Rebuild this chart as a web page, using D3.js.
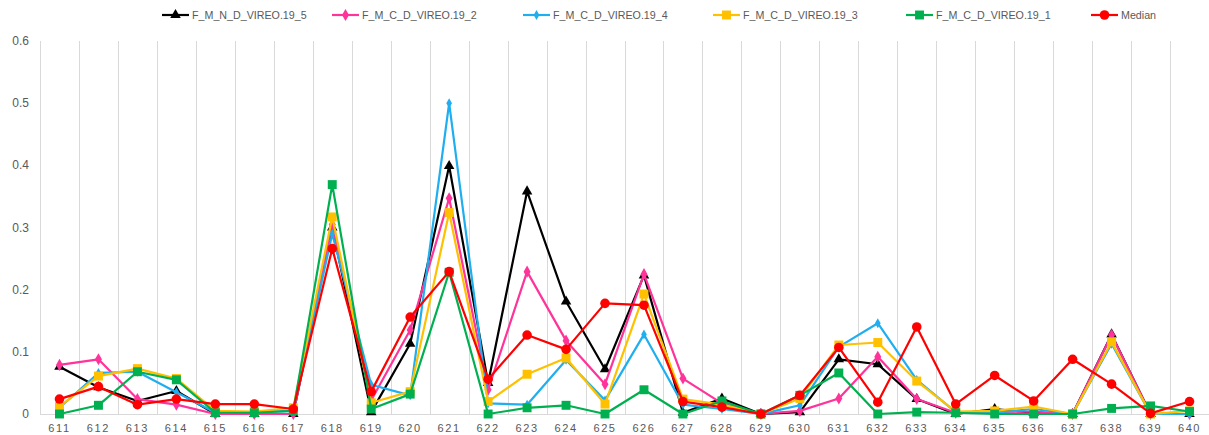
<!DOCTYPE html>
<html>
  <head>
    <script src="https://d3js.org/d3.v7.min.js"></script>
    <style>
      body { margin: 0; background: #fff; }
      text { font-family: "Liberation Sans", "Open Sans", sans-serif; fill: #595959; }
      .xlab { font-size: 11px; letter-spacing: 1.6px; }
      .ylab { font-size: 12px; }
      .legend text { font-size: 10.7px; }
    </style>
  </head>
  <body>
    <svg width="1209" height="435"></svg>
    <script>
      const categories = d3.range(611, 641).map(String);

      const seriesNames = [
        "F_M_N_D_VIREO.19_5",
        "F_M_C_D_VIREO.19_2",
        "F_M_C_D_VIREO.19_4",
        "F_M_C_D_VIREO.19_3",
        "F_M_C_D_VIREO.19_1",
        "Median"
      ];

      const s5 = [0.076, 0.043, 0.021, 0.037, 0, 0, 0, 0.300, 0.003, 0.113, 0.399, 0.050, 0.358, 0.181, 0.072,
                  0.223, 0.002, 0.025, 0, 0.003, 0.088, 0.080, 0.024, 0, 0.008, 0.002, 0, 0.128, 0, 0];
      const s2 = [0.079, 0.088, 0.024, 0.015, 0, 0, 0, 0.305, 0.022, 0.135, 0.347, 0.039, 0.229, 0.118, 0.048,
                  0.225, 0.057, 0.017, 0, 0.005, 0.025, 0.092, 0.024, 0.002, 0.003, 0.004, 0, 0.127, 0, 0];
      const s4 = [0.010, 0.066, 0.068, 0.035, 0.002, 0.003, 0.005, 0.290, 0.047, 0.030, 0.500, 0.017, 0.015, 0.087, 0.022,
                  0.128, 0.015, 0.008, 0, 0.014, 0.108, 0.146, 0.055, 0.003, 0.002, 0.008, 0, 0.113, 0, 0];
      const s3 = [0.012, 0.061, 0.073, 0.057, 0.005, 0.004, 0.010, 0.317, 0.018, 0.036, 0.324, 0.020, 0.064, 0.090, 0.016,
                  0.193, 0.024, 0.015, 0, 0.025, 0.111, 0.115, 0.053, 0.004, 0.005, 0.012, 0, 0.116, 0, 0.005];
      const s1 = [0, 0.014, 0.068, 0.055, 0.002, 0.002, 0.005, 0.369, 0.008, 0.032, 0.228, 0, 0.010, 0.014, 0,
                  0.039, 0, 0.021, 0, 0.030, 0.066, 0, 0.003, 0.002, 0, 0, 0, 0.009, 0.013, 0.004];
      const median = [0.024, 0.044, 0.015, 0.024, 0.016, 0.016, 0.008, 0.266, 0.036, 0.156, 0.229, 0.056, 0.127, 0.104, 0.178,
                      0.175, 0.020, 0.011, 0, 0.030, 0.107, 0.019, 0.140, 0.016, 0.062, 0.021, 0.088, 0.048, 0.001, 0.020];

      const yTicks = [0, 0.1, 0.2, 0.3, 0.4, 0.5, 0.6];

      const styles = [
        { color: "#000000", symbol: d3.symbolTriangle, size: 48 },
        { color: "#FF3399", symbol: d3.symbolDiamond, size: 42 },
        { color: "#1FAEEF", symbol: d3.symbolDiamond, size: 28 },
        { color: "#FFC000", symbol: d3.symbolSquare, size: 80 },
        { color: "#00B050", symbol: d3.symbolSquare, size: 80 },
        { color: "#FF0000", symbol: d3.symbolCircle, size: 72 }
      ];
      const allSeries = [s5, s2, s4, s3, s1, median];

      const svg = d3.select("svg");
      const plotLeft = 40, plotRight = 1209, plotTop = 41, plotBottom = 414;

      const x = d3.scaleBand().domain(categories).range([plotLeft, plotRight]);
      const y = d3.scaleLinear().domain([0, 0.6]).range([plotBottom, plotTop]);

      // vertical gridlines between categories
      const bounds = categories.map(c => x(c)).concat([plotRight - 0.5]);
      svg.append("g").selectAll("line").data(bounds).join("line")
        .attr("x1", d => Math.round(d) + 0.5).attr("x2", d => Math.round(d) + 0.5)
        .attr("y1", plotTop).attr("y2", plotBottom)
        .attr("stroke", "#D9D9D9").attr("stroke-width", 1);

      // x axis line
      svg.append("line")
        .attr("x1", plotLeft).attr("x2", plotRight).attr("y1", plotBottom + 0.5).attr("y2", plotBottom + 0.5)
        .attr("stroke", "#D9D9D9");

      svg.append("g").selectAll("text").data(categories).join("text")
        .attr("class", "xlab")
        .attr("x", d => x(d) + x.bandwidth() / 2)
        .attr("y", 432)
        .attr("text-anchor", "middle")
        .text(d => d);

      svg.append("g").selectAll("text").data(yTicks).join("text")
        .attr("class", "ylab")
        .attr("x", 29)
        .attr("y", d => y(d) + 4)
        .attr("text-anchor", "end")
        .text(d => d);

      const line = d3.line()
        .x((d, i) => x(categories[i]) + x.bandwidth() / 2)
        .y(d => y(d));

      allSeries.forEach((data, k) => {
        const st = styles[k];
        const g = svg.append("g");
        g.append("path").datum(data)
          .attr("d", line)
          .attr("fill", "none")
          .attr("stroke", st.color)
          .attr("stroke-width", 2.2)
          .attr("stroke-linejoin", "round");
        g.selectAll("path.m").data(data).join("path")
          .attr("class", "m")
          .attr("transform", (d, i) => `translate(${x(categories[i]) + x.bandwidth() / 2},${y(d)})`)
          .attr("d", d3.symbol().type(st.symbol).size(st.size))
          .attr("fill", st.color);
      });

      // legend
      const legendX = [162, 332, 523, 713, 906, 1091];
      const legend = svg.append("g").attr("class", "legend");
      seriesNames.forEach((name, k) => {
        const st = styles[k];
        const g = legend.append("g").attr("transform", `translate(${legendX[k]},15)`);
        g.append("line").attr("x1", 0).attr("x2", 27).attr("y1", 0).attr("y2", 0)
          .attr("stroke", st.color).attr("stroke-width", 2.2);
        g.append("path").attr("transform", "translate(13.5,0)")
          .attr("d", d3.symbol().type(st.symbol).size(st.size))
          .attr("fill", st.color);
        g.append("text").attr("x", 30).attr("y", 4).text(name);
      });
    </script>
  </body>
</html>
